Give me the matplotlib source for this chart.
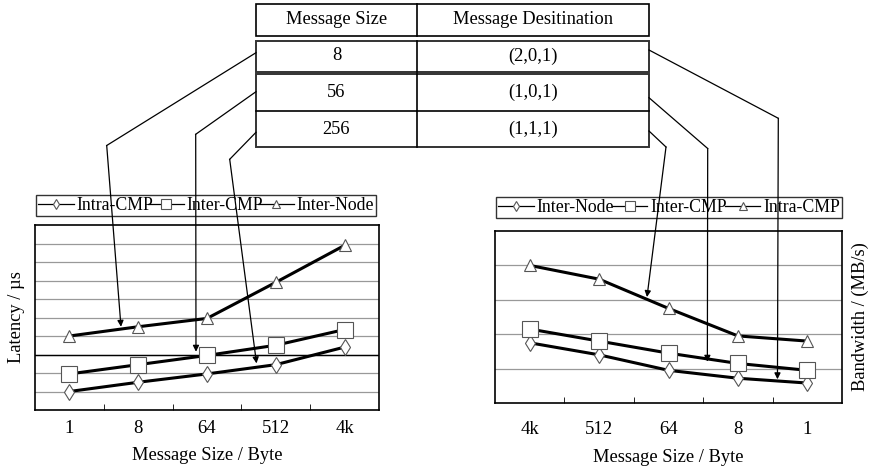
import matplotlib
matplotlib.use("Agg")

import matplotlib.pyplot as plt
from matplotlib.lines import Line2D
from matplotlib.patches import Rectangle

plt.rcParams['font.family'] = ['Liberation Serif', 'DejaVu Serif']

# latency chart (left)
lat_sizes = ['1', '8', '64', '512', '4k']
lat_intra_cmp = [1.0, 1.5, 1.95, 2.45, 3.4]
lat_inter_cmp = [1.95, 2.45, 2.95, 3.5, 4.35]
lat_inter_node = [4.0, 4.5, 4.95, 6.9, 8.9]

# bandwidth chart (right)
bw_sizes = ['4k', '512', '64', '8', '1']
bw_intra_cmp = [4.0, 3.6, 2.75, 1.95, 1.8]
bw_inter_cmp = [2.15, 1.8, 1.45, 1.15, 0.95]
bw_inter_node = [1.75, 1.4, 0.95, 0.72, 0.58]

# table
tab_header = ['Message Size', 'Message Desitination']
tab_sizes = ['8', '56', '256']
tab_dest = ['(2,0,1)', '(1,0,1)', '(1,1,1)']

W, H = 870, 466
fig = plt.figure(figsize=(W / 100, H / 100), dpi=100)


def px_axes(x0, y0, x1, y1):
    # pixel box (top-left origin) -> figure fraction
    return fig.add_axes([x0 / W, 1 - y1 / H, (x1 - x0) / W, (y1 - y0) / H])


MK = dict(mfc='white', mec='#555555', mew=0.8)
STY = {'d': 8, 's': 11, '^': 9}
FS = 13.3


def draw_plot(ax, sizes, series, ymax, ylabel, legend_box, tickpad, labelpad,
              darkline=None):
    x = list(range(len(sizes)))
    for i in range(1, ymax):
        ax.axhline(i, color='#999999', lw=0.9, zorder=1)
    if darkline is not None:
        ax.axhline(darkline, color='black', lw=1.0, zorder=1)
    handles = []
    for label, vals, m in series:
        ax.plot(x, vals, color='black', lw=2.2, zorder=3)
        ax.plot(x, vals, ls='none', marker=m, ms=STY[m], zorder=4, **MK)
        handles.append(Line2D([], [], color='black', lw=0.9, marker=m,
                              ms=STY[m] * 0.7, **MK))
    ax.set_xlim(-0.5, len(sizes) - 0.5)
    ax.set_ylim(0, ymax)
    ax.set_xticks(x)
    ax.set_xticklabels(sizes, fontsize=13.5)
    ax.set_xticks([i + 0.5 for i in x[:-1]], minor=True)
    ax.tick_params(axis='x', which='major', length=0, pad=tickpad)
    ax.tick_params(axis='x', which='minor', length=4, direction='in')
    ax.set_yticks([])
    for s in ax.spines.values():
        s.set_linewidth(1.2)
    ax.set_xlabel('Message Size / Byte', fontsize=FS, labelpad=labelpad)
    ax.set_ylabel(ylabel, fontsize=FS, labelpad=7)
    leg = ax.legend(handles, [s[0] for s in series], ncol=3, mode='expand',
                    loc='lower left', bbox_to_anchor=legend_box,
                    fontsize=12.8, frameon=True, fancybox=False,
                    handlelength=2.0, handletextpad=0.15, columnspacing=0.2,
                    borderpad=0.12, borderaxespad=0)
    leg.get_frame().set_edgecolor('black')
    leg.get_frame().set_linewidth(1.0)


ax1 = px_axes(35, 225, 379, 410)
draw_plot(ax1, lat_sizes,
          [('Intra-CMP', lat_intra_cmp, 'd'),
           ('Inter-CMP', lat_inter_cmp, 's'),
           ('Inter-Node', lat_inter_node, '^')],
          10, 'Latency / µs', (0.003, 1.049, 0.988, 0.135), 7.5, 7, darkline=3)

ax2 = px_axes(495, 231, 842, 403)
draw_plot(ax2, bw_sizes,
          [('Inter-Node', bw_inter_node, 'd'),
           ('Inter-CMP', bw_inter_cmp, 's'),
           ('Intra-CMP', bw_intra_cmp, '^')],
          5, 'Bandwidth / (MB/s)', (0.003, 1.075, 0.997, 0.116), 13, 8)
ax2.yaxis.set_label_position('right')

# overlay in pixel coordinates for the table and the arrows
ov = fig.add_axes([0, 0, 1, 1], zorder=10)
ov.set_xlim(0, W)
ov.set_ylim(H, 0)
ov.axis('off')
ov.patch.set_visible(False)

tx0, tx1, tdiv = 256, 649, 417
ov.add_patch(Rectangle((tx0, 4), tx1 - tx0, 32, fill=False, lw=1.2))
ov.plot([tdiv, tdiv], [4, 36], color='black', lw=1.2)
ov.text((tx0 + tdiv) / 2, 20, tab_header[0], ha='center', va='center', fontsize=FS)
ov.text((tdiv + tx1) / 2, 20, tab_header[1], ha='center', va='center', fontsize=FS)

row_y = [(40.5, 71.5), (74, 110.7), (110.7, 147.3)]
ov.add_patch(Rectangle((tx0, 40.5), tx1 - tx0, 31, fill=False, lw=1.4, ec='#333333'))
ov.add_patch(Rectangle((tx0, 74), tx1 - tx0, 73.3, fill=False, lw=1.4, ec='#333333'))
ov.plot([tx0, tx1], [110.7, 110.7], color='black', lw=1.2)
for (ya, yb), s, d in zip(row_y, tab_sizes, tab_dest):
    ov.plot([tdiv, tdiv], [ya, yb], color='black', lw=1.2)
    ov.text((tx0 + tdiv) / 2, (ya + yb) / 2, s, ha='center', va='center', fontsize=FS)
    ov.text((tdiv + tx1) / 2, (ya + yb) / 2, d, ha='center', va='center', fontsize=FS)

# (start on table, kink, target axes, target point in data coords)
arrows = [
    ((tx0, 52.7), (106.7, 145.5), ax1, (0.75, 4.5)),
    ((tx0, 91.7), (195.7, 134.3), ax1, (1.84, 3.15)),
    ((tx0, 132.3), (229.7, 159.3), ax1, (2.72, 2.52)),
    ((tx1, 50.0), (778.3, 118.3), ax2, (3.57, 0.69)),
    ((tx1, 97.7), (707.7, 148.5), ax2, (2.56, 1.2)),
    ((tx1, 131.0), (666.0, 147.0), ax2, (1.69, 3.08)),
]
for start, kink, ax, tip in arrows:
    tip_px = ov.transData.inverted().transform(ax.transData.transform(tip))
    ov.plot([start[0], kink[0]], [start[1], kink[1]], color='black', lw=0.9)
    ov.annotate('', xy=tip_px, xytext=kink,
                arrowprops=dict(arrowstyle='-|>', color='black', lw=0.9,
                                mutation_scale=9, shrinkA=0, shrinkB=0))

fig.savefig('out.png', dpi=100)
